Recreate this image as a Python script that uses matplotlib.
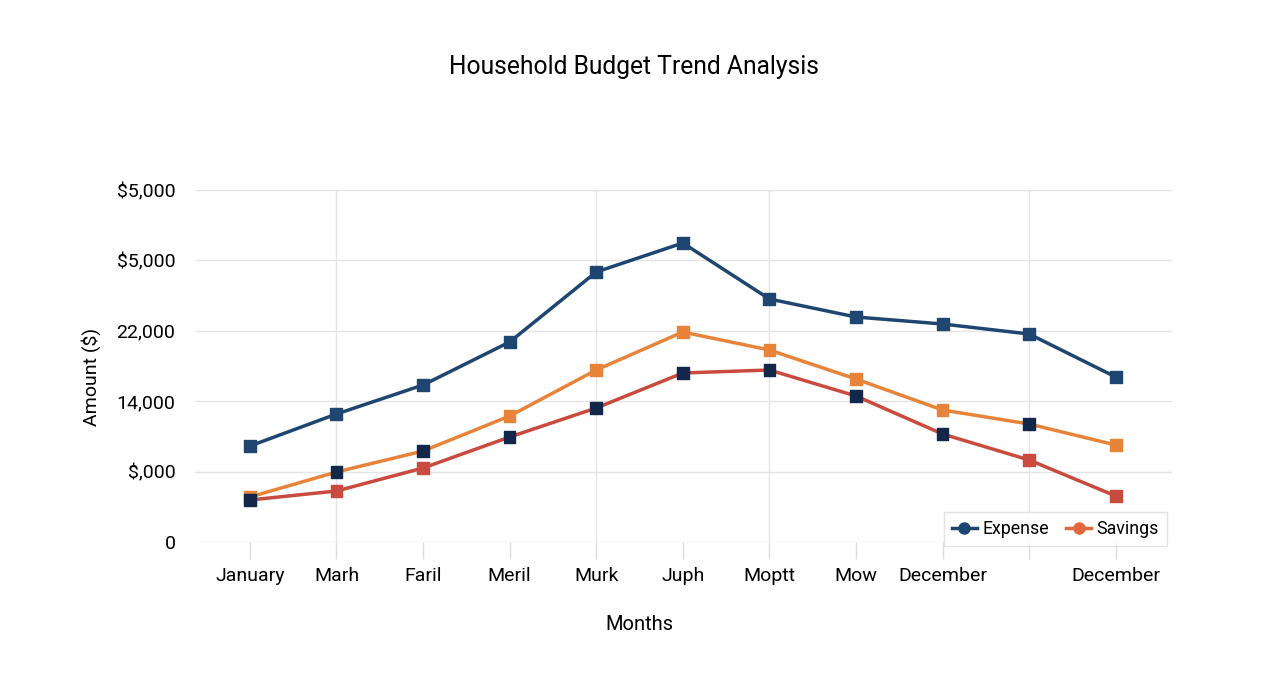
import matplotlib
matplotlib.use("Agg")
import matplotlib.pyplot as plt
from matplotlib.lines import Line2D

plt.rcParams['font.family'] = ['Roboto', 'DejaVu Sans']

months = ["January", "Marh", "Faril", "Meril", "Murk", "Juph", "Moptt", "Mow", "December", "", "December"]
expense = [9545, 12727, 15611, 19886, 26846, 29730, 24162, 22372, 21676, 20682, 16406]
orange_series = [4474, 6960, 9048, 12528, 17102, 20880, 19091, 16207, 13125, 11733, 9645]
savings = [4176, 5071, 7358, 10440, 13324, 16804, 17102, 14517, 10739, 8153, 4574]

y_ticks = [0, 7000, 14000, 21000, 28000, 35000]
y_tick_labels = ["0", "$,000", "14,000", "22,000", "$5,000", "$5,000"]
vgrid_idx = [1, 4, 6, 9]

BLUE = "#1e4670"
ORANGE = "#e8843a"
RED = "#c94a3e"
NAVY = "#13274a"

orange_marker = [ORANGE, NAVY, NAVY, ORANGE, ORANGE, ORANGE, ORANGE, ORANGE, ORANGE, NAVY, ORANGE]
red_marker = [NAVY, RED, RED, NAVY, NAVY, NAVY, NAVY, NAVY, NAVY, RED, RED]

fig = plt.figure(figsize=(12.8, 6.98), dpi=100)
ax = fig.add_axes([0.1523, 0.2235, 0.7633, 0.5043])

x = list(range(len(months)))

for i in vgrid_idx:
    ax.axvline(x[i], color="#e4e4e4", lw=1.0, zorder=0)
for yt in y_ticks:
    ax.axhline(yt, color="#e4e4e4", lw=1.0, zorder=0)

ax.plot(x, expense, color=BLUE, lw=2.5, zorder=3)
ax.scatter(x, expense, marker='s', s=70, color=BLUE, zorder=4)
ax.plot(x, orange_series, color=ORANGE, lw=2.5, zorder=3)
ax.scatter(x, orange_series, marker='s', s=70, color=orange_marker, zorder=4)
ax.plot(x, savings, color=RED, lw=2.5, zorder=3)
ax.scatter(x, savings, marker='s', s=70, color=red_marker, zorder=5)

ax.set_xlim(-0.635, 10.65)
ax.set_ylim(0, 35000)
ax.set_xticks(x)
ax.set_xticklabels(months, fontsize=14)
ax.set_yticks(y_ticks)
ax.set_yticklabels(y_tick_labels, fontsize=14)
ax.tick_params(axis='x', length=12, width=1, color="#dddddd", pad=6)
ax.tick_params(axis='y', length=0, pad=14)
for s in ax.spines.values():
    s.set_visible(False)

ax.set_xlabel("Months", fontsize=14.5)
ax.xaxis.set_label_coords(0.455, -0.208)
ax.set_ylabel("Amount ($)", fontsize=14)
ax.yaxis.set_label_coords(-0.096, 0.47)
fig.text(0.495, 0.904, "Household Budget Trend Analysis", ha='center', va='center', fontsize=17.7)

handles = [Line2D([0], [0], color=BLUE, lw=2.5, marker='o', markersize=8),
           Line2D([0], [0], color="#e06a3e", lw=2.5, marker='o', markersize=8)]
leg = ax.legend(handles, ["Expense", "Savings"], ncol=2, loc='lower right',
                bbox_to_anchor=(0.995, -0.012), borderaxespad=0, fontsize=12.8, frameon=True,
                fancybox=False, handlelength=1.4, handletextpad=0.3, columnspacing=1.0,
                borderpad=0.45)
leg.get_frame().set_edgecolor("#dddddd")
leg.get_frame().set_linewidth(1.0)

fig.savefig("out.png", dpi=100)
